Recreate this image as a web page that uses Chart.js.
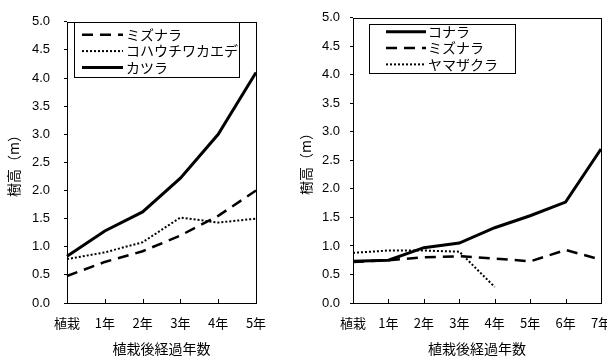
<!DOCTYPE html>
<html>
<head>
<meta charset="utf-8">
<script src="https://cdn.jsdelivr.net/npm/chart.js@4"></script>
<style>
  html, body { margin: 0; padding: 0; background: #fff; overflow: hidden; width: 607px; height: 358px; }
  .box { position: absolute; top: 0; height: 358px; }
  #b1 { left: 0; width: 300px; }
  #b2 { left: 300px; width: 320px; }
</style>
</head>
<body>
<div class="box" id="b1"><canvas id="c1" width="300" height="358"></canvas></div>
<div class="box" id="b2"><canvas id="c2" width="320" height="358"></canvas></div>
<script>
// left chart
var yearsA = ['植栽', '1年', '2年', '3年', '4年', '5年'];
var mizunaraA = [0.48, 0.73, 0.92, 1.2, 1.55, 2.0];
var kohauchiwa = [0.78, 0.9, 1.08, 1.52, 1.43, 1.5];
var katsura = [0.83, 1.28, 1.62, 2.22, 3.0, 4.1];

// right chart
var yearsB = ['植栽', '1年', '2年', '3年', '4年', '5年', '6年', '7年'];
var konara = [0.73, 0.75, 0.97, 1.05, 1.32, 1.53, 1.77, 2.7];
var mizunaraB = [0.72, 0.75, 0.8, 0.82, 0.78, 0.73, 0.93, 0.76];
var yamazakura = [0.88, 0.92, 0.92, 0.9, 0.28, null, null, null];

var yTitle = '樹高（m）';
var xTitle = '植栽後経過年数';

var JP = '"Noto Sans CJK JP", "Noto Sans", sans-serif';

function solid(label, data) {
  return { label: label, data: data, borderColor: '#000', borderWidth: 3, pointRadius: 0, tension: 0, fill: false };
}
function dashed(label, data) {
  return { label: label, data: data, borderColor: '#000', borderWidth: 2.5, borderDash: [11, 7], pointRadius: 0, tension: 0, fill: false };
}
function dotted(label, data) {
  return { label: label, data: data, borderColor: '#000', borderWidth: 2, borderDash: [2, 2], pointRadius: 0, tension: 0, fill: false };
}

// frame + small inner ticks on x axis + boxed legend
var framePlugin = {
  id: 'frame',
  afterDraw: function(chart, args, opts) {
    var ctx = chart.ctx, a = chart.chartArea;
    ctx.save();
    ctx.strokeStyle = '#000';
    ctx.lineWidth = 1;
    ctx.setLineDash([]);
    ctx.strokeRect(Math.round(a.left) + 0.5, Math.round(a.top) + 0.5, Math.round(a.right - a.left), Math.round(a.bottom - a.top));
    var xs = chart.scales.x;
    for (var i = 1; i < xs.ticks.length; i++) {
      var px = Math.round(xs.getPixelForTick(i)) + 0.5;
      ctx.beginPath();
      ctx.moveTo(px, a.bottom);
      ctx.lineTo(px, a.bottom - 4);
      ctx.stroke();
    }
    // legend
    var L = opts;
    var bx = a.left + L.dx, by = a.top + L.dy;
    ctx.fillStyle = '#fff';
    ctx.fillRect(bx, by, L.w, L.h);
    ctx.strokeRect(Math.round(bx) + 0.5, Math.round(by) + 0.5, L.w, L.h);
    ctx.font = '14px ' + JP;
    ctx.textBaseline = 'middle';
    ctx.fillStyle = '#000';
    chart.data.datasets.forEach(function(ds, k) {
      var ly = by + L.first + k * L.step;
      ctx.beginPath();
      ctx.lineWidth = ds.borderWidth;
      ctx.setLineDash(ds.borderDash || []);
      ctx.moveTo(bx + L.lx0, ly);
      ctx.lineTo(bx + L.lx1, ly);
      ctx.stroke();
      ctx.fillText(ds.label, bx + L.tx, ly);
    });
    ctx.restore();
  }
};

function makeChart(id, labels, datasets, o) {
  return new Chart(document.getElementById(id), {
    type: 'line',
    data: { labels: labels, datasets: datasets },
    plugins: [framePlugin],
    options: {
      responsive: false,
      animation: false,
      layout: { padding: { top: 16, right: o.padRight, bottom: 0, left: 0 } },
      plugins: {
        legend: { display: false },
        tooltip: { enabled: false },
        frame: o.legend
      },
      scales: {
        x: {
          offset: false,
          grid: { display: false },
          border: { display: false },
          ticks: { color: '#000', padding: 4, maxRotation: 0, autoSkip: false, font: { family: JP, size: 13 } },
          title: { display: true, text: xTitle, color: '#000', padding: { top: 0, bottom: 1 }, font: { family: JP, size: 14 } },
          afterFit: function(s) { s.height = 55; }
        },
        y: {
          min: 0,
          max: 5,
          grid: { display: true, drawOnChartArea: false, drawTicks: true, tickLength: 3, color: '#000' },
          border: { display: false },
          ticks: {
            stepSize: 0.5,
            color: '#000',
            padding: o.tickPad,
            font: { family: '"Liberation Sans", Arial, sans-serif', size: 13 },
            callback: function(v) { return Number(v).toFixed(1); }
          },
          title: { display: true, text: yTitle, color: '#000', padding: { top: o.titlePad, bottom: 0 }, font: { family: JP, size: 14 } },
          afterFit: function(s) { s.width = o.yWidth; }
        }
      }
    }
  });
}

makeChart('c1', yearsA, [
  dashed('ミズナラ', mizunaraA),
  dotted('コハウチワカエデ', kohauchiwa),
  solid('カツラ', katsura)
], { padRight: 44, yWidth: 67, tickPad: 14, titlePad: 5,
     legend: { dx: 7, dy: 0, w: 165, h: 55, first: 13, step: 16.3, lx0: 8, lx1: 49, tx: 52 } });

makeChart('c2', yearsB, [
  solid('コナラ', konara),
  dashed('ミズナラ', mizunaraB),
  dotted('ヤマザクラ', yamazakura)
], { padRight: 19, yWidth: 53, tickPad: 10, titlePad: -3,
     legend: { dx: 16, dy: 6, w: 146, h: 49, first: 8, step: 16.3, lx0: 17, lx1: 57, tx: 59 } });
</script>
</body>
</html>
